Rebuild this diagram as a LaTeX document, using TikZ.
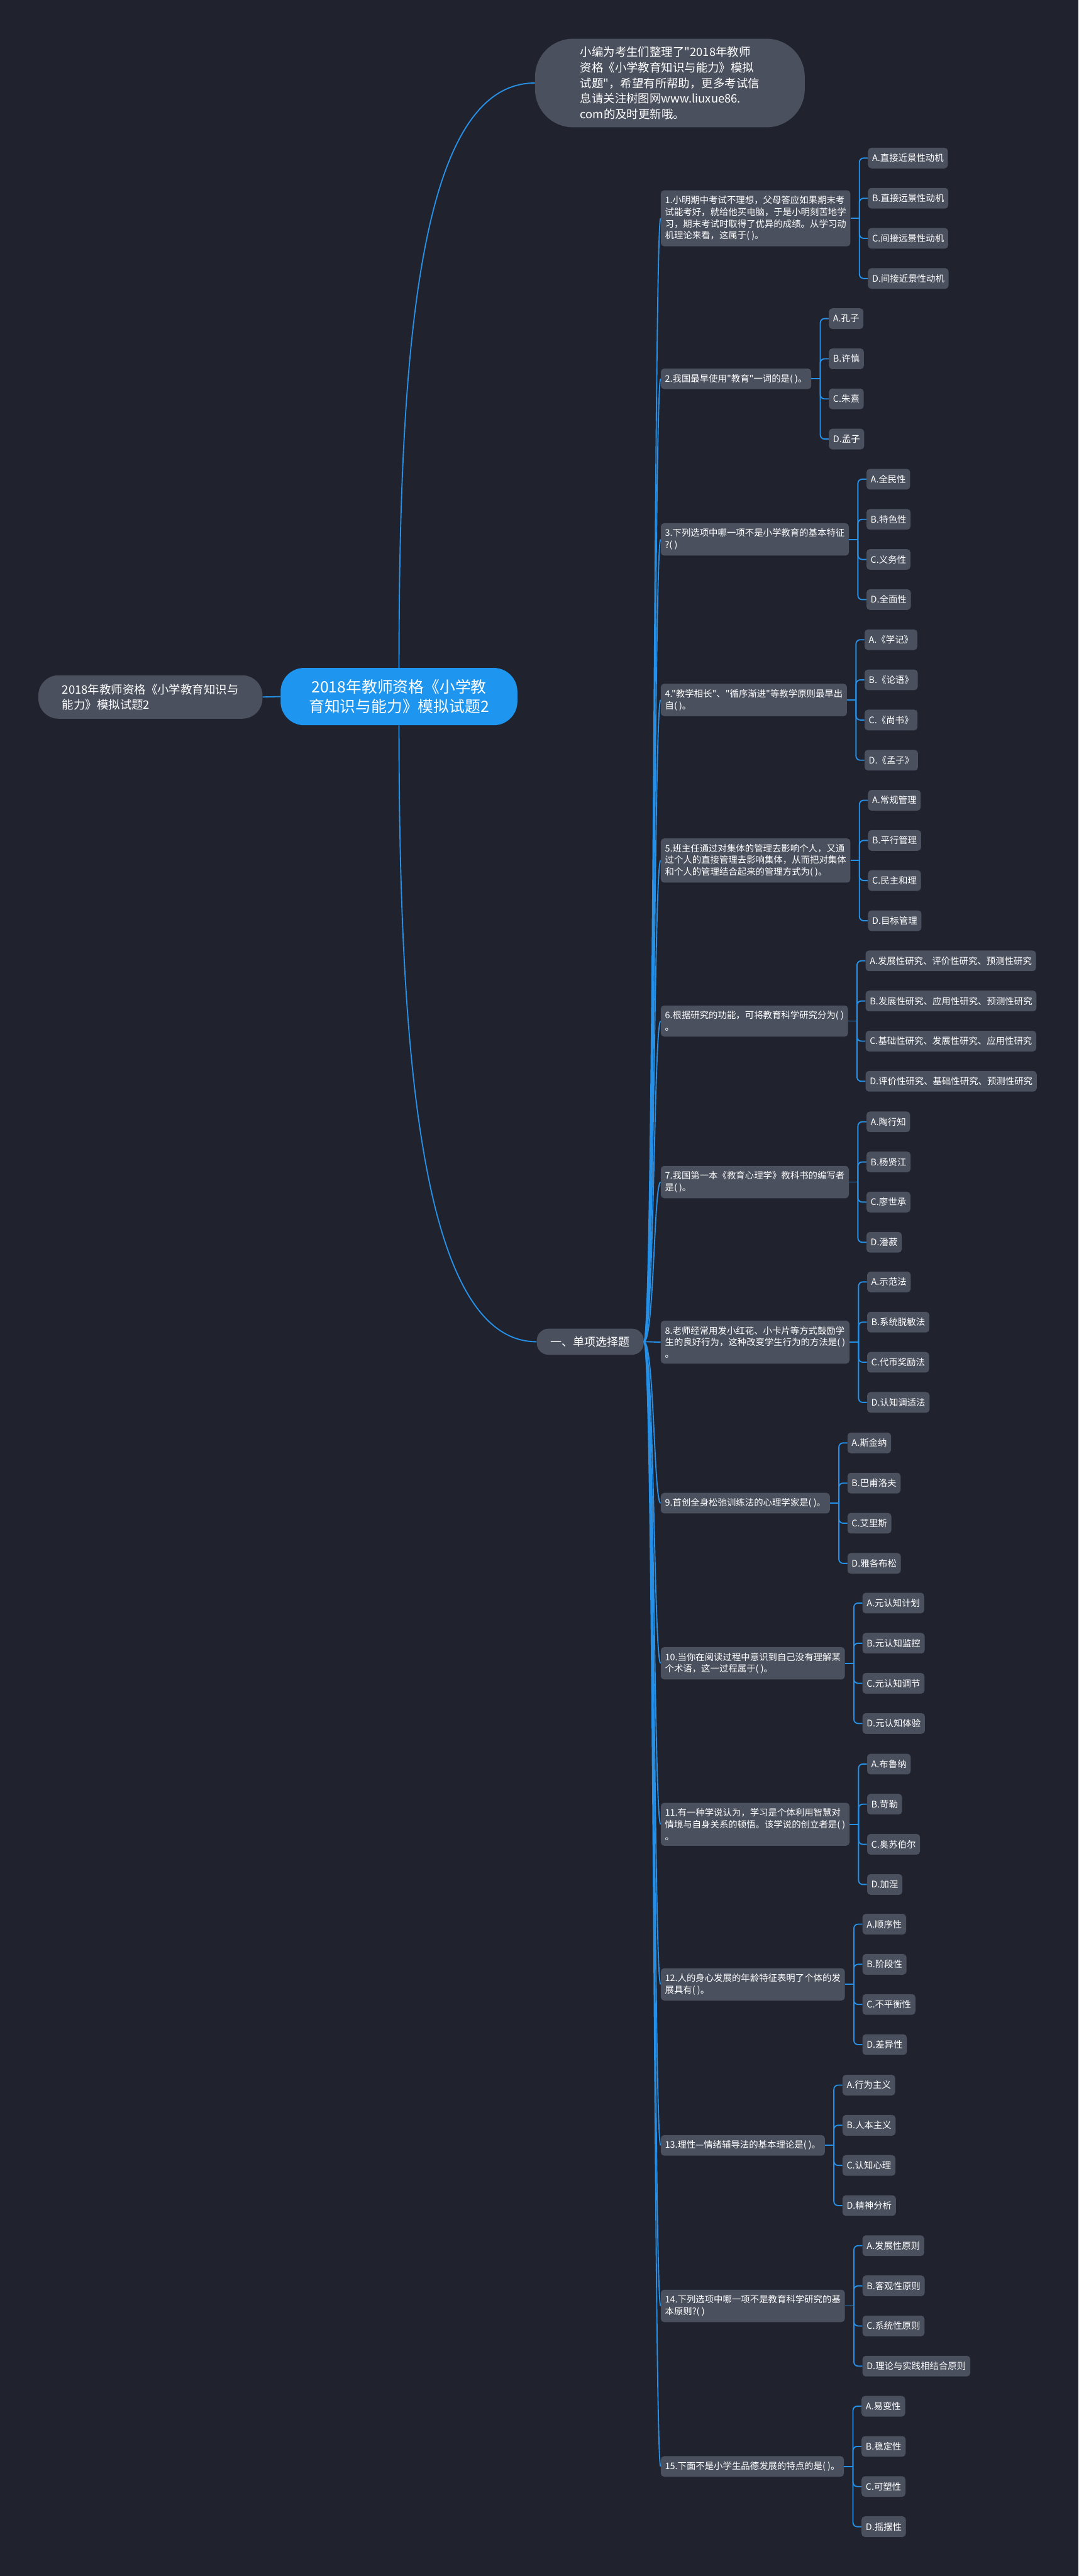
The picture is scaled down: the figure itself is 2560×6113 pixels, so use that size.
\documentclass[tikz,border=0pt]{standalone}
\usepackage{fontspec}
\newfontfamily\cjkfont{Noto Sans CJK SC}
\usepackage{tikz}
\usetikzlibrary{calc}
\usetikzlibrary{positioning}
\definecolor{bgdark}{RGB}{32,35,46}
\definecolor{boxgray}{RGB}{74,80,94}
\definecolor{linkblue}{RGB}{38,143,230}
\definecolor{rootblue}{RGB}{30,150,240}
\tikzset{
	box/.style={shape=rectangle,fill=boxgray,text=white,align=left,rounded corners=4pt,inner xsep=5pt,inner ysep=6.6pt,font=\cjkfont\fontsize{10.75pt}{14pt}\selectfont},
	question/.style={box,anchor=west},
	answer/.style={box,anchor=west,minimum height=24.5pt},
	link/.style={draw=linkblue,line width=1.4pt},
}
\newcommand{\drawquestion}[7]{
	\draw #1 node (#2) [question] {#3};
	\draw (#2.east) ++(right:10.5pt) coordinate (#2j);
	\node (#2a) [answer] at ([xshift=20.5pt,yshift=71.45pt]#2.east) {#4};
	\node (#2b) [answer] at ([xshift=20.5pt,yshift=23.8pt]#2.east) {#5};
	\node (#2c) [answer] at ([xshift=20.5pt,yshift=-23.8pt]#2.east) {#6};
	\node (#2d) [answer] at ([xshift=20.5pt,yshift=-71.45pt]#2.east) {#7};
	\draw[link] (#2.east) -- (#2j);
	\foreach \k in {a,b,c,d} \draw[link,rounded corners=5pt] (#2j) |- (#2\k.west);
}

\begin{document}
\begin{tikzpicture}[x=0.5pt,y=-0.5pt]
	\fill[bgdark] (0,0) rectangle (2560,6113);
	\useasboundingbox (0,0) rectangle (2560,6113);
	\node (root) [shape=rectangle,fill=rootblue,text=white,rounded corners=28pt,minimum width=281pt,minimum height=68pt,align=center,font=\cjkfont\fontsize{18.5pt}{22.5pt}\selectfont] at (947,1653) {2018年教师资格《小学教\\育知识与能力》模拟试题2};
	\node (left) [box,rounded corners=24pt,minimum width=266pt,minimum height=51.5pt,font=\cjkfont\fontsize{13.75pt}{17.5pt}\selectfont] at (357,1654) {2018年教师资格《小学教育知识与\\能力》模拟试题2};
	\node (intro) [box,rounded corners=45pt,minimum width=320pt,minimum height=105pt,font=\cjkfont\fontsize{13.75pt}{18.5pt}\selectfont] at (1590,197) {小编为考生们整理了"2018年教师\\资格《小学教育知识与能力》模拟\\试题"，希望有所帮助，更多考试信\\息请关注树图网www.liuxue86.\\com的及时更新哦。};
	\node (sec) [box,rounded corners=14pt,minimum width=127pt,minimum height=31pt,font=\cjkfont\fontsize{13.5pt}{16pt}\selectfont] at (1401,3184) {一、单项选择题};
	\draw[link] (left.east) -- (root.west);
	\draw[link] (root.north) .. controls +(0,-786) and +(-270,0) .. (intro.west);
	\draw[link] (root.south) .. controls +(0,780) and +(-274,0) .. (sec.west);
	\drawquestion{(1568,518)}{q1}{1.小明期中考试不理想，父母答应如果期末考\\试能考好，就给他买电脑，于是小明刻苦地学\\习，期末考试时取得了优异的成绩。从学习动\\机理论来看，这属于( )。}{A.直接近景性动机}{B.直接远景性动机}{C.间接远景性动机}{D.间接近景性动机}
	\drawquestion{(1568,899)}{q2}{2.我国最早使用"教育"一词的是( )。}{A.孔子}{B.许慎}{C.朱熹}{D.孟子}
	\drawquestion{(1568,1280)}{q3}{3.下列选项中哪一项不是小学教育的基本特征\\?( )}{A.全民性}{B.特色性}{C.义务性}{D.全面性}
	\drawquestion{(1568,1661)}{q4}{4."教学相长"、"循序渐进"等教学原则最早出\\自( )。}{A.《学记》}{B.《论语》}{C.《尚书》}{D.《孟子》}
	\drawquestion{(1568,2042)}{q5}{5.班主任通过对集体的管理去影响个人，又通\\过个人的直接管理去影响集体，从而把对集体\\和个人的管理结合起来的管理方式为( )。}{A.常规管理}{B.平行管理}{C.民主和理}{D.目标管理}
	\drawquestion{(1568,2423)}{q6}{6.根据研究的功能，可将教育科学研究分为( )\\。}{A.发展性研究、评价性研究、预测性研究}{B.发展性研究、应用性研究、预测性研究}{C.基础性研究、发展性研究、应用性研究}{D.评价性研究、基础性研究、预测性研究}
	\drawquestion{(1568,2805)}{q7}{7.我国第一本《教育心理学》教科书的编写者\\是( )。}{A.陶行知}{B.杨贤江}{C.廖世承}{D.潘菽}
	\drawquestion{(1568,3185)}{q8}{8.老师经常用发小红花、小卡片等方式鼓励学\\生的良好行为，这种改变学生行为的方法是( )\\。}{A.示范法}{B.系统脱敏法}{C.代币奖励法}{D.认知调适法}
	\drawquestion{(1568,3567)}{q9}{9.首创全身松弛训练法的心理学家是( )。}{A.斯金纳}{B.巴甫洛夫}{C.艾里斯}{D.雅各布松}
	\drawquestion{(1568,3947)}{q10}{10.当你在阅读过程中意识到自己没有理解某\\个术语，这一过程属于( )。}{A.元认知计划}{B.元认知监控}{C.元认知调节}{D.元认知体验}
	\drawquestion{(1568,4329)}{q11}{11.有一种学说认为，学习是个体利用智慧对\\情境与自身关系的顿悟。该学说的创立者是( )\\。}{A.布鲁纳}{B.苛勒}{C.奥苏伯尔}{D.加涅}
	\drawquestion{(1568,4709)}{q12}{12.人的身心发展的年龄特征表明了个体的发\\展具有( )。}{A.顺序性}{B.阶段性}{C.不平衡性}{D.差异性}
	\drawquestion{(1568,5091)}{q13}{13.理性—情绪辅导法的基本理论是( )。}{A.行为主义}{B.人本主义}{C.认知心理}{D.精神分析}
	\drawquestion{(1568,5472)}{q14}{14.下列选项中哪一项不是教育科学研究的基\\本原则?( )}{A.发展性原则}{B.客观性原则}{C.系统性原则}{D.理论与实践相结合原则}
	\drawquestion{(1568,5853)}{q15}{15.下面不是小学生品德发展的特点的是( )。}{A.易变性}{B.稳定性}{C.可塑性}{D.摇摆性}
	\foreach \i in {1,...,15} \draw[link] (sec.east) .. controls +(24,0) and +(-16,0) .. (q\i.west);
\end{tikzpicture}
\end{document}
